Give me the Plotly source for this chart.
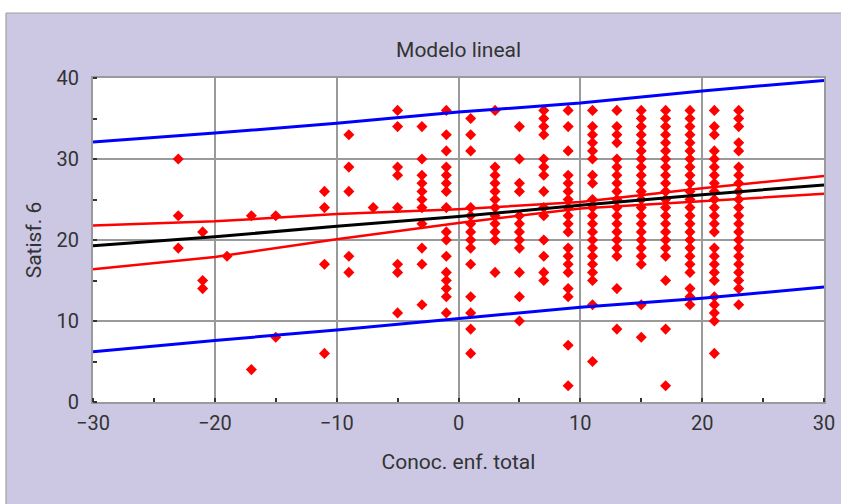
import plotly.graph_objects as go

# ---- scatter data: x value of each column and the y values found in it
col_x = [-23, -21, -19, -17, -15, -11, -9, -7, -5, -3, -1, 1, 3, 5, 7, 9, 11, 13, 15, 17, 19, 21, 23]
col_y = [
    [30, 23, 19],
    [21, 15, 14],
    [18],
    [23, 4],
    [23, 8],
    [26, 24, 17, 6],
    [33, 29, 26, 18, 16],
    [24],
    [36, 34, 29, 28, 24, 17, 16, 11],
    [34, 30, 28, 27, 26, 25, 24, 22, 19, 17, 12],
    [36, 33, 31, 29, 28, 27, 26, 24, 21, 20, 18, 16, 15, 14, 13, 11],
    [35, 33, 31, 24, 23, 22, 21, 20, 19, 17, 13, 11, 9, 6],
    [36, 29, 28, 27, 26, 25, 24, 23, 22, 21, 20, 16],
    [34, 30, 27, 26, 23, 22, 21, 20, 19, 16, 13, 10],
    [36, 35, 34, 33, 30, 29, 28, 26, 24, 23, 20, 18, 16, 15],
    [36, 34, 31, 28, 27, 26, 25, 24, 23, 22, 21, 19, 18, 17, 16, 14, 13, 7, 2],
    [36, 34, 33, 32, 31, 30, 28, 27, 25, 24, 23, 22, 21, 20, 19, 18, 17, 16, 15, 12, 5],
    [36, 34, 33, 32, 30, 29, 28, 27, 26, 25, 24, 23, 22, 21, 20, 19, 18, 14, 9],
    [36, 35, 34, 33, 32, 31, 30, 29, 28, 27, 26, 25, 24, 23, 22, 21, 20, 19, 18, 17, 12, 8],
    [36, 35, 34, 33, 32, 31, 30, 29, 28, 27, 26, 25, 24, 23, 22, 21, 20, 19, 18, 15, 9, 2],
    [36, 35, 34, 33, 32, 31, 30, 29, 28, 27, 26, 25, 24, 23, 22, 21, 20, 19, 18, 17, 16, 14, 13, 12],
    [36, 34, 33, 31, 30, 29, 28, 27, 26, 25, 24, 23, 22, 21, 19, 18, 17, 16, 15, 13, 12, 11, 10, 6],
    [36, 35, 34, 32, 31, 29, 28, 27, 26, 25, 24, 23, 22, 21, 20, 19, 18, 17, 16, 15, 14, 12],
]

# ---- fitted model lines, read at the vertical gridlines
line_x = [-30, -20, -10, 0, 10, 20, 30]
fit_y = [19.3, 20.4, 21.7, 22.9, 24.3, 25.6, 26.8]
conf_upper = [21.8, 22.3, 23.2, 23.8, 24.7, 26.4, 27.9]
conf_lower = [16.4, 17.9, 20.1, 22.1, 23.9, 24.8, 25.7]
pred_upper = [32.1, 33.2, 34.4, 35.8, 36.9, 38.4, 39.7]
pred_lower = [6.2, 7.6, 8.9, 10.3, 11.7, 12.8, 14.2]

x_ticks = [-30, -20, -10, 0, 10, 20, 30]
y_ticks = [0, 10, 20, 30, 40]

pts_x, pts_y = [], []
for cx, ys in zip(col_x, col_y):
    for v in ys:
        pts_x.append(cx)
        pts_y.append(v)

LAV = "#ccc8e4"
TXT = "#333333"
FONT = "Roboto"

fig = go.Figure()
fig.add_trace(go.Scatter(x=pts_x, y=pts_y, mode="markers",
                         marker=dict(symbol="diamond", size=8.5, color="#ff0000"),
                         showlegend=False, hoverinfo="x+y"))
for ys, col, w in [(pred_upper, "#0000ff", 3), (pred_lower, "#0000ff", 3),
                   (conf_upper, "#ff0000", 2.5), (conf_lower, "#ff0000", 2.5),
                   (fit_y, "#000000", 3)]:
    fig.add_trace(go.Scatter(x=line_x, y=ys, mode="lines",
                             line=dict(color=col, width=w),
                             showlegend=False, hoverinfo="skip"))

axis_common = dict(
    showgrid=True, gridcolor="#9a9a9a", gridwidth=1.5,
    zeroline=False, showline=True, mirror=True,
    linecolor="#9a9a9a", linewidth=2, automargin=False,
    ticks="", tickfont=dict(family=FONT, size=20, color=TXT),
    minor=dict(dtick=5, ticks="inside", ticklen=4, tickcolor="#333333",
               tickwidth=1.5, showgrid=False),
)

fig.update_layout(
    width=841, height=504,
    margin=dict(l=93, r=17, t=78, b=102),
    paper_bgcolor=LAV, plot_bgcolor="#ffffff",
    title=dict(text="Modelo lineal", x=0.5453, xanchor="center",
               y=1 - 50 / 504, yanchor="middle",
               font=dict(family=FONT, size=21, color=TXT)),
    xaxis=dict(range=[-30, 30], tickvals=x_ticks, ticklabelstandoff=2,
               title=dict(text="Conoc. enf. total", standoff=20,
                          font=dict(family=FONT, size=21, color=TXT)),
               **axis_common),
    yaxis=dict(range=[0, 40], tickvals=y_ticks, ticklabelstandoff=8,
               title=dict(text="Satisf. 6", standoff=9,
                          font=dict(family=FONT, size=21, color=TXT)),
               **axis_common),
    shapes=[
        dict(type="rect", xref="paper", yref="paper", x0=-0.2, x1=1.1,
             y0=1.2006, y1=1.3, fillcolor="#ffffff", line=dict(width=0), layer="above"),
        dict(type="rect", xref="paper", yref="paper", x0=-0.2, x1=-0.1190,
             y0=-0.4, y1=1.3, fillcolor="#ffffff", line=dict(width=0), layer="above"),
        dict(type="line", xref="paper", yref="paper", x0=-0.1190, x1=1.1,
             y0=1.2006, y1=1.2006, line=dict(color="#a0a0a0", width=1.2), layer="above"),
        dict(type="line", xref="paper", yref="paper", x0=-0.1190, x1=-0.1190,
             y0=-0.4, y1=1.2006, line=dict(color="#a0a0a0", width=1.2), layer="above"),
    ],
)

fig.write_html("out.html",
               config={"displayModeBar": False},
               post_script="document.body.style.margin='0';document.body.style.overflow='hidden';")
